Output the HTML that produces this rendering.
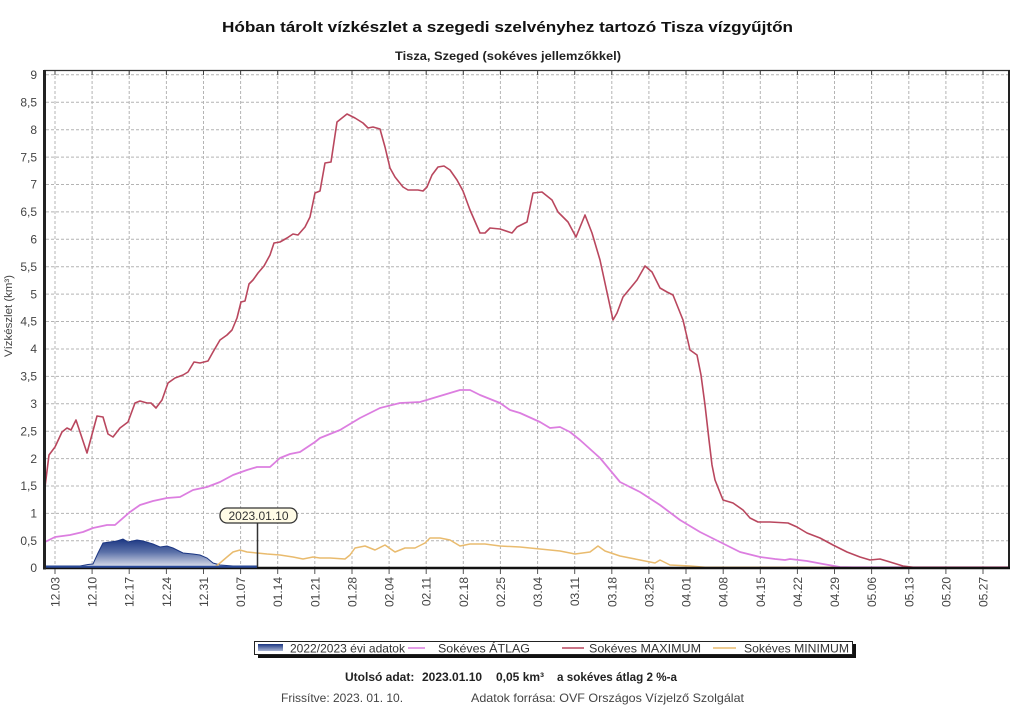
<!DOCTYPE html>
<html>
<head>
<meta charset="utf-8">
<style>
html,body{margin:0;padding:0;background:#fff;}
svg{display:block;}
text{font-family:"Liberation Sans",Arial,sans-serif;}
</style>
</head>
<body>
<svg width="1024" height="725" viewBox="0 0 1024 725" xmlns="http://www.w3.org/2000/svg">
<defs>
<linearGradient id="bg" x1="0" y1="539" x2="0" y2="568" gradientUnits="userSpaceOnUse">
<stop offset="0" stop-color="#1b3682"/>
<stop offset="0.45" stop-color="#5a70a8"/>
<stop offset="1" stop-color="#e6e8f0"/>
</linearGradient>
<linearGradient id="lg" x1="0" y1="0" x2="0" y2="1">
<stop offset="0" stop-color="#1b3682"/>
<stop offset="1" stop-color="#a8b4d4"/>
</linearGradient>
</defs>
<rect width="1024" height="725" fill="#fff"/>

<!-- Titles -->
<text x="222" y="32" font-size="15" font-weight="bold" fill="#111" textLength="571" lengthAdjust="spacingAndGlyphs">Hóban tárolt vízkészlet a szegedi szelvényhez tartozó Tisza vízgyűjtőn</text>
<text x="395" y="60" font-size="11.5" font-weight="bold" fill="#222" textLength="226" lengthAdjust="spacingAndGlyphs">Tisza, Szeged (sokéves jellemzőkkel)</text>

<!-- Grid horizontal -->
<g stroke="#b4b4b4" stroke-width="1" stroke-dasharray="3,2">
<line x1="46" y1="74.8" x2="1008" y2="74.8"/>
<line x1="46" y1="102.3" x2="1008" y2="102.3"/>
<line x1="46" y1="129.7" x2="1008" y2="129.7"/>
<line x1="46" y1="157.1" x2="1008" y2="157.1"/>
<line x1="46" y1="184.5" x2="1008" y2="184.5"/>
<line x1="46" y1="211.9" x2="1008" y2="211.9"/>
<line x1="46" y1="239.3" x2="1008" y2="239.3"/>
<line x1="46" y1="266.7" x2="1008" y2="266.7"/>
<line x1="46" y1="294.1" x2="1008" y2="294.1"/>
<line x1="46" y1="321.5" x2="1008" y2="321.5"/>
<line x1="46" y1="349.0" x2="1008" y2="349.0"/>
<line x1="46" y1="376.4" x2="1008" y2="376.4"/>
<line x1="46" y1="403.8" x2="1008" y2="403.8"/>
<line x1="46" y1="431.2" x2="1008" y2="431.2"/>
<line x1="46" y1="458.6" x2="1008" y2="458.6"/>
<line x1="46" y1="486.0" x2="1008" y2="486.0"/>
<line x1="46" y1="513.4" x2="1008" y2="513.4"/>
<line x1="46" y1="540.8" x2="1008" y2="540.8"/>
</g>
<!-- Grid vertical -->
<g stroke="#b4b4b4" stroke-width="1" stroke-dasharray="3,2">
<line x1="55" y1="71" x2="55" y2="567"/>
<line x1="92.1" y1="71" x2="92.1" y2="567"/>
<line x1="129.2" y1="71" x2="129.2" y2="567"/>
<line x1="166.4" y1="71" x2="166.4" y2="567"/>
<line x1="203.5" y1="71" x2="203.5" y2="567"/>
<line x1="240.6" y1="71" x2="240.6" y2="567"/>
<line x1="277.7" y1="71" x2="277.7" y2="567"/>
<line x1="314.8" y1="71" x2="314.8" y2="567"/>
<line x1="352" y1="71" x2="352" y2="567"/>
<line x1="389.1" y1="71" x2="389.1" y2="567"/>
<line x1="426.2" y1="71" x2="426.2" y2="567"/>
<line x1="463.3" y1="71" x2="463.3" y2="567"/>
<line x1="500.4" y1="71" x2="500.4" y2="567"/>
<line x1="537.6" y1="71" x2="537.6" y2="567"/>
<line x1="574.7" y1="71" x2="574.7" y2="567"/>
<line x1="611.8" y1="71" x2="611.8" y2="567"/>
<line x1="648.9" y1="71" x2="648.9" y2="567"/>
<line x1="686" y1="71" x2="686" y2="567"/>
<line x1="723.2" y1="71" x2="723.2" y2="567"/>
<line x1="760.3" y1="71" x2="760.3" y2="567"/>
<line x1="797.4" y1="71" x2="797.4" y2="567"/>
<line x1="834.5" y1="71" x2="834.5" y2="567"/>
<line x1="871.6" y1="71" x2="871.6" y2="567"/>
<line x1="908.8" y1="71" x2="908.8" y2="567"/>
<line x1="945.9" y1="71" x2="945.9" y2="567"/>
<line x1="983" y1="71" x2="983" y2="567"/>
</g>

<!-- Blue area 2022/2023 -->
<path d="M45,568 L45,566 L80,566 L88,564.5 L93,564 L98,553 L103,543 L110,542 L117,541 L123,539 L128,542 L137,540 L143,541 L153,544 L160,547 L167,546 L173,548 L183,553 L193,554 L200,555 L207,558 L213,563 L220,565 L233,566 L257,566 L257,568 Z" fill="url(#bg)" stroke="#1b3682" stroke-width="1"/>

<!-- Minimum -->
<polyline fill="none" stroke="#e9bb6e" stroke-width="1.5" stroke-linejoin="round" points="45,567.3 215,567 220,563 227,557 233,552 240,550 247,552 257,553 267,554 280,555 293,557 303,559 313,557 320,558 330,558 345,559 350,555 355,548 365,546 375,550 385,545 395,552 405,548 415,548 425,543 430,538 440,538 450,540 460,546 470,544 485,544 500,546 520,547 540,549 560,551 575,554 590,552 598,546 605,551 620,556 640,560 655,563 660,560 670,565 690,566 705,567.3 1008,567.3"/>

<!-- Average -->
<polyline fill="none" stroke="#dc7ee0" stroke-width="1.8" stroke-linejoin="round" points="45,542 55,537 70,535 83,532 93,528 107,525 115,525 130,512 140,505 153,501 167,498 180,497 193,490 207,487 220,482 233,475 247,470 257,467 270,467 280,458 290,454 300,452 315,442 320,438 340,430 360,418 380,408 400,403 420,402 440,396 460,390 470,390 480,395 500,403 510,410 520,413 540,422 550,428 560,427 570,432 580,440 600,458 610,470 620,482 640,492 660,505 680,520 700,532 720,542 740,552 760,557 775,559 785,560 790,559 807,561 823,564 840,567 853,567.3 1008,567.3"/>

<!-- Maximum -->
<polyline fill="none" stroke="#b9475e" stroke-width="1.6" stroke-linejoin="round" points="45,487 49,455 55,447 62,432 67,428 71,430 76,420 87,453 97,416 103,417 108,434 113,437 120,428 128,422 135,403 140,401 147,403 151,403 156,408 162,400 168,383 175,378 183,375 188,372 194,362 200,363 208,361 213,352 220,340 227,335 232,330 237,318 241,302 245,301 249,284 253,280 258,273 264,266 270,255 274,243 280,242 287,238 293,234 298,235 305,227 310,217 315,193 320,191 325,163 331,162 337,122 347,114 355,118 363,123 368,128 373,127 380,129 385,147 390,168 395,177 403,187 408,190 418,190 423,191 427,187 432,175 438,167 444,166 450,170 457,180 463,191 470,210 480,233 485,233 490,228 500,229 512,233 517,227 527,222 533,193 542,192 552,200 558,212 568,222 576,237 585,215 592,233 600,260 613,320 617,313 623,297 637,280 645,266 652,272 660,288 667,292 673,295 683,320 690,350 697,355 701,375 705,405 709,440 712,465 715,480 723,500 733,503 743,510 750,518 758,522 770,522 788,523 797,527 807,533 820,538 833,545 847,552 860,557 870,560 880,559 890,562 903,566 913,567.3 1008,567.3"/>

<!-- Frame -->
<line x1="44" y1="70.5" x2="1010" y2="70.5" stroke="#333" stroke-width="1.2"/>
<line x1="1009" y1="70" x2="1009" y2="569" stroke="#222" stroke-width="2"/>
<line x1="44" y1="568" x2="1010" y2="568" stroke="#111" stroke-width="2.4"/>
<line x1="44.5" y1="70" x2="44.5" y2="569.5" stroke="#222" stroke-width="3"/>
<line x1="46" y1="566.8" x2="257" y2="566.8" stroke="#2a4a9a" stroke-width="2"/>

<!-- top ticks -->
<g stroke="#444" stroke-width="1">
<line x1="55" y1="71" x2="55" y2="75"/><line x1="92.1" y1="71" x2="92.1" y2="75"/><line x1="129.2" y1="71" x2="129.2" y2="75"/><line x1="166.4" y1="71" x2="166.4" y2="75"/><line x1="203.5" y1="71" x2="203.5" y2="75"/><line x1="240.6" y1="71" x2="240.6" y2="75"/><line x1="277.7" y1="71" x2="277.7" y2="75"/><line x1="314.8" y1="71" x2="314.8" y2="75"/><line x1="352" y1="71" x2="352" y2="75"/><line x1="389.1" y1="71" x2="389.1" y2="75"/><line x1="426.2" y1="71" x2="426.2" y2="75"/><line x1="463.3" y1="71" x2="463.3" y2="75"/><line x1="500.4" y1="71" x2="500.4" y2="75"/><line x1="537.6" y1="71" x2="537.6" y2="75"/><line x1="574.7" y1="71" x2="574.7" y2="75"/><line x1="611.8" y1="71" x2="611.8" y2="75"/><line x1="648.9" y1="71" x2="648.9" y2="75"/><line x1="686" y1="71" x2="686" y2="75"/><line x1="723.2" y1="71" x2="723.2" y2="75"/><line x1="760.3" y1="71" x2="760.3" y2="75"/><line x1="797.4" y1="71" x2="797.4" y2="75"/><line x1="834.5" y1="71" x2="834.5" y2="75"/><line x1="871.6" y1="71" x2="871.6" y2="75"/><line x1="908.8" y1="71" x2="908.8" y2="75"/><line x1="945.9" y1="71" x2="945.9" y2="75"/><line x1="983" y1="71" x2="983" y2="75"/>
</g>
<!-- bottom ticks -->
<g stroke="#555" stroke-width="1">
<line x1="55" y1="569" x2="55" y2="574"/><line x1="92.1" y1="569" x2="92.1" y2="574"/><line x1="129.2" y1="569" x2="129.2" y2="574"/><line x1="166.4" y1="569" x2="166.4" y2="574"/><line x1="203.5" y1="569" x2="203.5" y2="574"/><line x1="240.6" y1="569" x2="240.6" y2="574"/><line x1="277.7" y1="569" x2="277.7" y2="574"/><line x1="314.8" y1="569" x2="314.8" y2="574"/><line x1="352" y1="569" x2="352" y2="574"/><line x1="389.1" y1="569" x2="389.1" y2="574"/><line x1="426.2" y1="569" x2="426.2" y2="574"/><line x1="463.3" y1="569" x2="463.3" y2="574"/><line x1="500.4" y1="569" x2="500.4" y2="574"/><line x1="537.6" y1="569" x2="537.6" y2="574"/><line x1="574.7" y1="569" x2="574.7" y2="574"/><line x1="611.8" y1="569" x2="611.8" y2="574"/><line x1="648.9" y1="569" x2="648.9" y2="574"/><line x1="686" y1="569" x2="686" y2="574"/><line x1="723.2" y1="569" x2="723.2" y2="574"/><line x1="760.3" y1="569" x2="760.3" y2="574"/><line x1="797.4" y1="569" x2="797.4" y2="574"/><line x1="834.5" y1="569" x2="834.5" y2="574"/><line x1="871.6" y1="569" x2="871.6" y2="574"/><line x1="908.8" y1="569" x2="908.8" y2="574"/><line x1="945.9" y1="569" x2="945.9" y2="574"/><line x1="983" y1="569" x2="983" y2="574"/>
</g>

<!-- Y labels -->
<g font-size="12" fill="#444" text-anchor="end">
<text x="37" y="79">9</text>
<text x="37" y="106.5">8,5</text>
<text x="37" y="134">8</text>
<text x="37" y="161.3">7,5</text>
<text x="37" y="188.7">7</text>
<text x="37" y="216.1">6,5</text>
<text x="37" y="243.5">6</text>
<text x="37" y="270.9">5,5</text>
<text x="37" y="298.3">5</text>
<text x="37" y="325.7">4,5</text>
<text x="37" y="353.2">4</text>
<text x="37" y="380.6">3,5</text>
<text x="37" y="408">3</text>
<text x="37" y="435.4">2,5</text>
<text x="37" y="462.8">2</text>
<text x="37" y="490.2">1,5</text>
<text x="37" y="517.6">1</text>
<text x="37" y="545">0,5</text>
<text x="37" y="572">0</text>
</g>
<text transform="translate(12,316) rotate(-90)" font-size="11" fill="#444" text-anchor="middle" textLength="82" lengthAdjust="spacingAndGlyphs">Vízkészlet (km³)</text>

<!-- X labels -->
<g font-size="12" fill="#444" text-anchor="end">
<text transform="translate(59.5,577) rotate(-90)">12.03</text>
<text transform="translate(96.6,577) rotate(-90)">12.10</text>
<text transform="translate(133.7,577) rotate(-90)">12.17</text>
<text transform="translate(170.9,577) rotate(-90)">12.24</text>
<text transform="translate(208,577) rotate(-90)">12.31</text>
<text transform="translate(245.1,577) rotate(-90)">01.07</text>
<text transform="translate(282.2,577) rotate(-90)">01.14</text>
<text transform="translate(319.3,577) rotate(-90)">01.21</text>
<text transform="translate(356.5,577) rotate(-90)">01.28</text>
<text transform="translate(393.6,577) rotate(-90)">02.04</text>
<text transform="translate(430.7,577) rotate(-90)">02.11</text>
<text transform="translate(467.8,577) rotate(-90)">02.18</text>
<text transform="translate(504.9,577) rotate(-90)">02.25</text>
<text transform="translate(542.1,577) rotate(-90)">03.04</text>
<text transform="translate(579.2,577) rotate(-90)">03.11</text>
<text transform="translate(616.3,577) rotate(-90)">03.18</text>
<text transform="translate(653.4,577) rotate(-90)">03.25</text>
<text transform="translate(690.5,577) rotate(-90)">04.01</text>
<text transform="translate(727.7,577) rotate(-90)">04.08</text>
<text transform="translate(764.8,577) rotate(-90)">04.15</text>
<text transform="translate(801.9,577) rotate(-90)">04.22</text>
<text transform="translate(839,577) rotate(-90)">04.29</text>
<text transform="translate(876.1,577) rotate(-90)">05.06</text>
<text transform="translate(913.3,577) rotate(-90)">05.13</text>
<text transform="translate(950.4,577) rotate(-90)">05.20</text>
<text transform="translate(987.5,577) rotate(-90)">05.27</text>
</g>

<!-- Tag -->
<line x1="257.5" y1="523" x2="257.5" y2="567" stroke="#333" stroke-width="1.5"/>
<rect x="220" y="508" width="77" height="15" rx="7" ry="7" fill="#fffbe6" stroke="#333" stroke-width="1.3"/>
<text x="258.5" y="520" font-size="12" fill="#333" text-anchor="middle">2023.01.10</text>

<!-- Legend -->
<rect x="258" y="644" width="598" height="14" fill="#111"/>
<rect x="254.5" y="641.5" width="598" height="13" fill="#fff" stroke="#222" stroke-width="1"/>
<rect x="258" y="644" width="25" height="7" fill="url(#lg)"/>
<g font-size="12" fill="#333">
<text x="290" y="652.5" textLength="115" lengthAdjust="spacingAndGlyphs">2022/2023 évi adatok</text>
<text x="438" y="652.5" textLength="92" lengthAdjust="spacingAndGlyphs">Sokéves ÁTLAG</text>
<text x="589" y="652.5" textLength="112" lengthAdjust="spacingAndGlyphs">Sokéves MAXIMUM</text>
<text x="744" y="652.5" textLength="105" lengthAdjust="spacingAndGlyphs">Sokéves MINIMUM</text>
</g>
<line x1="408" y1="648" x2="425" y2="648" stroke="#dc7ee0" stroke-width="1.5"/>
<line x1="562" y1="648" x2="584" y2="648" stroke="#b9475e" stroke-width="1.5"/>
<line x1="713" y1="648" x2="736" y2="648" stroke="#e9bb6e" stroke-width="1.5"/>

<!-- Footer -->
<g font-size="12" font-weight="bold" fill="#222">
<text x="345" y="681">Utolsó adat:</text>
<text x="422" y="681">2023.01.10</text>
<text x="496" y="681">0,05 km³</text>
<text x="557" y="681" textLength="120" lengthAdjust="spacingAndGlyphs">a sokéves átlag 2 %-a</text>
</g>
<g font-size="12" fill="#444">
<text x="281" y="702">Frissítve: 2023. 01. 10.</text>
<text x="471" y="702" textLength="273" lengthAdjust="spacingAndGlyphs">Adatok forrása: OVF Országos Vízjelző Szolgálat</text>
</g>
</svg>
</body>
</html>
